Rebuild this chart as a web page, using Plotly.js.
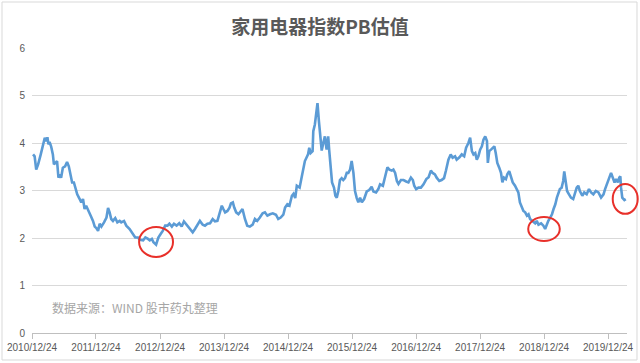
<!DOCTYPE html>
<html>
<head>
<meta charset="utf-8">
<script src="https://cdn.plot.ly/plotly-3.0.1.min.js"></script>
<style>html,body{margin:0;padding:0;background:#fff;}#chart{width:640px;height:363px;}</style>
</head>
<body>
<div id="chart"></div>
<script>
const titleText = "家用电器指数PB估值";
const sourceText = "数据来源：WIND 股市药丸整理";

const tickDates = ["2010-12-24","2011-12-24","2012-12-24","2013-12-24","2014-12-24","2015-12-24","2016-12-24","2017-12-24","2018-12-24","2019-12-24"];
const tickLabels = ["2010/12/24","2011/12/24","2012/12/24","2013/12/24","2014/12/24","2015/12/24","2016/12/24","2017/12/24","2018/12/24","2019/12/24"];

const dates = [
"2010-12-30","2011-01-08","2011-01-17","2011-01-28","2011-02-12","2011-02-26","2011-03-07","2011-03-16","2011-03-22","2011-03-28",
"2011-04-03","2011-04-12","2011-04-22","2011-04-28","2011-05-05","2011-05-16","2011-05-24","2011-05-31","2011-06-08","2011-06-18",
"2011-07-01","2011-07-12","2011-07-22","2011-08-01","2011-08-10","2011-08-20","2011-08-28","2011-09-08","2011-09-22","2011-10-01",
"2011-10-11","2011-10-20","2011-10-29","2011-11-08","2011-11-24","2011-12-07","2011-12-17","2011-12-26","2012-01-05","2012-01-14",
"2012-01-24","2012-02-08","2012-02-22","2012-03-02","2012-03-11","2012-03-20","2012-03-30","2012-04-12","2012-04-24","2012-05-07",
"2012-05-16","2012-06-01","2012-06-14","2012-07-03","2012-07-22","2012-08-04","2012-08-20","2012-08-30","2012-09-18","2012-10-01",
"2012-10-16","2012-10-26",
"2012-11-07","2012-11-16","2012-12-01","2012-12-14","2012-12-28","2013-01-08","2013-01-22","2013-02-04","2013-02-15","2013-03-01",
"2013-03-13","2013-03-28","2013-04-12","2013-04-26","2013-05-09","2013-05-24","2013-06-08","2013-06-28","2013-07-11","2013-07-24",
"2013-08-08","2013-08-24","2013-09-06","2013-09-20","2013-10-05","2013-10-20","2013-11-02","2013-11-16","2013-11-28","2013-12-11",
"2013-12-20","2013-12-30","2014-01-12","2014-01-24","2014-02-01","2014-02-12","2014-02-20","2014-03-03","2014-03-16","2014-03-28",
"2014-04-08","2014-04-22","2014-05-05","2014-05-20","2014-06-05","2014-06-18","2014-07-01","2014-07-16","2014-08-01","2014-08-14",
"2014-08-28","2014-09-12","2014-09-28",
"2014-10-16","2014-10-29","2014-11-12","2014-11-27","2014-12-07","2014-12-20","2015-01-01","2015-01-15","2015-01-24","2015-02-03",
"2015-02-12","2015-02-28","2015-03-11","2015-03-20","2015-03-30","2015-04-08","2015-04-17","2015-04-24","2015-05-02","2015-05-13",
"2015-05-17","2015-05-26","2015-06-05","2015-06-10","2015-06-18","2015-06-24","2015-07-04","2015-07-12","2015-07-22","2015-08-01",
"2015-08-10","2015-08-16","2015-08-24","2015-09-01","2015-09-12","2015-09-20","2015-09-28","2015-10-07","2015-10-16","2015-10-26",
"2015-11-04","2015-11-14","2015-11-24","2015-12-03","2015-12-13","2015-12-22","2016-01-01","2016-01-10","2016-01-20","2016-01-29",
"2016-02-08","2016-02-18","2016-03-02","2016-03-17","2016-03-31","2016-04-14","2016-04-24","2016-05-09","2016-05-22","2016-06-01",
"2016-06-17","2016-06-30","2016-07-13","2016-07-24","2016-08-07",
"2016-08-16","2016-08-26","2016-09-05","2016-09-14","2016-09-28","2016-10-13","2016-10-28","2016-11-10","2016-11-24","2016-12-05",
"2016-12-13","2016-12-24","2017-01-06","2017-01-20","2017-02-04","2017-02-20","2017-03-05","2017-03-18","2017-03-28","2017-04-10",
"2017-04-20","2017-05-05","2017-05-18","2017-06-01","2017-06-12","2017-06-26","2017-07-09","2017-07-20","2017-08-03","2017-08-12",
"2017-08-28","2017-09-10","2017-09-24","2017-10-05","2017-10-18","2017-10-28","2017-11-07","2017-11-16","2017-11-26","2017-12-05",
"2017-12-14","2017-12-24","2018-01-03","2018-01-12","2018-01-22","2018-02-01","2018-02-06","2018-02-14","2018-02-24","2018-03-05",
"2018-03-15","2018-03-23","2018-04-01","2018-04-12","2018-04-22","2018-04-30","2018-05-09","2018-05-20","2018-05-28","2018-06-08",
"2018-06-16","2018-06-28","2018-07-11","2018-07-20","2018-07-30","2018-08-08","2018-08-18","2018-08-28","2018-09-07","2018-09-17",
"2018-09-26","2018-10-05","2018-10-18","2018-11-03","2018-11-12","2018-11-22","2018-12-07","2018-12-20","2018-12-30","2019-01-08",
"2019-01-17","2019-01-28","2019-02-07","2019-02-16","2019-02-26","2019-03-07","2019-03-16","2019-03-24","2019-04-03","2019-04-12",
"2019-04-18","2019-04-26","2019-05-04","2019-05-15","2019-05-26","2019-06-08","2019-06-18","2019-06-28","2019-07-07","2019-07-16",
"2019-07-30","2019-08-10","2019-08-24","2019-09-06","2019-09-18","2019-10-01","2019-10-15","2019-10-30","2019-11-14","2019-11-28",
"2019-12-07","2019-12-17","2019-12-30","2020-01-10","2020-01-20","2020-01-30","2020-02-08","2020-02-18","2020-02-26","2020-03-03",
"2020-03-07","2020-03-14","2020-03-26","2020-04-03"
];

const pb = [
3.76,3.72,3.44,3.55,3.76,3.97,4.11,4.04,4.12,3.97,
4.02,3.93,3.76,3.55,3.58,3.62,3.27,3.34,3.27,3.48,
3.51,3.60,3.51,3.34,3.17,3.17,3.06,2.92,2.82,2.75,
2.82,2.61,2.68,2.61,2.47,2.36,2.24,2.21,2.15,2.30,
2.24,2.33,2.43,2.63,2.54,2.40,2.36,2.42,2.33,2.36,
2.33,2.36,2.26,2.19,2.09,2.01,2.01,1.96,1.95,2.01,
1.98,1.95,
1.98,1.91,1.86,2.01,2.09,2.15,2.26,2.26,2.30,2.24,
2.30,2.26,2.31,2.24,2.35,2.28,2.21,2.12,2.19,2.26,
2.36,2.28,2.26,2.30,2.31,2.40,2.35,2.36,2.50,2.68,
2.61,2.54,2.57,2.64,2.73,2.75,2.64,2.54,2.50,2.57,
2.61,2.40,2.26,2.24,2.28,2.40,2.36,2.43,2.52,2.54,
2.47,2.50,2.52,
2.49,2.40,2.43,2.49,2.64,2.71,2.68,2.89,2.93,2.84,
3.10,3.06,3.27,3.44,3.62,3.69,3.76,3.90,3.79,3.83,
4.25,4.39,4.80,4.84,4.46,4.18,3.84,3.98,4.14,3.86,
4.14,3.84,3.55,3.17,3.06,2.89,2.85,2.99,3.22,3.26,
3.22,3.26,3.37,3.37,3.44,3.62,3.37,2.99,2.84,2.75,
2.85,2.75,2.82,2.98,3.01,3.08,2.98,2.96,3.03,3.13,
3.10,3.27,3.49,3.44,3.42,
3.44,3.37,3.20,3.14,3.22,3.22,3.19,3.17,3.27,3.22,
3.10,3.03,3.06,3.06,3.13,3.24,3.28,3.42,3.37,3.34,
3.27,3.20,3.22,3.26,3.42,3.65,3.76,3.69,3.72,3.65,
3.70,3.76,3.72,3.90,4.00,4.11,3.83,3.76,3.79,3.65,
3.72,3.86,3.93,4.07,4.14,4.04,3.58,3.83,3.86,3.90,
3.93,3.79,3.58,3.48,3.37,3.17,3.27,3.24,3.34,3.41,
3.30,3.17,3.10,3.03,2.96,2.75,2.64,2.57,2.54,2.47,
2.50,2.40,2.36,2.31,2.36,2.28,2.31,2.26,2.19,2.28,
2.36,2.43,2.50,2.61,2.71,2.85,2.96,3.03,3.06,3.20,
3.40,3.13,2.99,2.92,2.85,2.82,2.92,3.06,3.10,2.99,
2.89,2.96,2.92,3.03,2.96,2.92,2.99,2.96,2.85,2.92,
3.03,3.13,3.27,3.37,3.27,3.17,3.24,3.17,3.27,3.30,
3.06,2.85,2.80,2.82
];

const trace = {
  x: dates, y: pb, type: "scatter", mode: "lines",
  line: {color: "#5b9bd5", width: 2.6},
  hoverinfo: "skip"
};

function ring(x0, x1, y0, y1) {
  return {type: "circle", xref: "paper", yref: "paper", x0: x0, x1: x1, y0: y0, y1: y1,
          line: {color: "#e8302a", width: 2}, fillcolor: "rgba(0,0,0,0)", layer: "above"};
}

const layout = {
  width: 640, height: 363,
  margin: {l: 32, r: 13, t: 48, b: 30, pad: 0},
  paper_bgcolor: "#ffffff", plot_bgcolor: "#ffffff",
  showlegend: false,
  font: {family: "Liberation Sans, Arial, sans-serif", color: "#595959", size: 10},
  title: {
    text: "<b>" + titleText + "</b>",
    font: {family: "Noto Sans CJK SC, sans-serif", size: 19, color: "#595959"},
    x: 0.5, xref: "container", xanchor: "center",
    y: 0.925, yref: "container", yanchor: "middle"
  },
  xaxis: {
    type: "date",
    range: ["2010-12-24", "2020-04-10"],
    tickmode: "array", tickvals: tickDates, ticktext: tickLabels,
    showgrid: false, zeroline: false,
    showline: true, linecolor: "#bfbfbf", linewidth: 1,
    ticks: "outside", ticklen: 5, tickcolor: "#bfbfbf", tickwidth: 1,
    tickfont: {size: 10, color: "#595959", family: "Liberation Sans, Arial, sans-serif"},
    fixedrange: true
  },
  yaxis: {
    range: [0, 6], dtick: 1, tick0: 0,
    showgrid: true, gridcolor: "#d9d9d9", gridwidth: 1,
    zeroline: false, showline: false, ticks: "",
    ticklabelstandoff: 6,
    tickfont: {size: 10, color: "#595959", family: "Liberation Sans, Arial, sans-serif"},
    fixedrange: true
  },
  annotations: [{
    text: sourceText, xref: "paper", yref: "paper", x: 0.031, y: 0.088,
    xanchor: "left", yanchor: "middle", showarrow: false,
    font: {family: "Noto Sans CJK SC, sans-serif", size: 12, color: "#a6a6a6"}
  }],
  shapes: [
    {type: "rect", xref: "paper", yref: "paper", x0: -0.0504, x1: 1.0168, y0: -0.0947, y1: 1.1614,
     line: {color: "#d9d9d9", width: 1}, fillcolor: "rgba(0,0,0,0)", layer: "below"},
    ring(0.180, 0.237, 0.267, 0.372),
    ring(0.834, 0.887, 0.323, 0.407),
    ring(0.976, 1.018, 0.418, 0.523)
  ]
};

Plotly.newPlot("chart", [trace], layout, {staticPlot: true, displayModeBar: false});
</script>
</body>
</html>
